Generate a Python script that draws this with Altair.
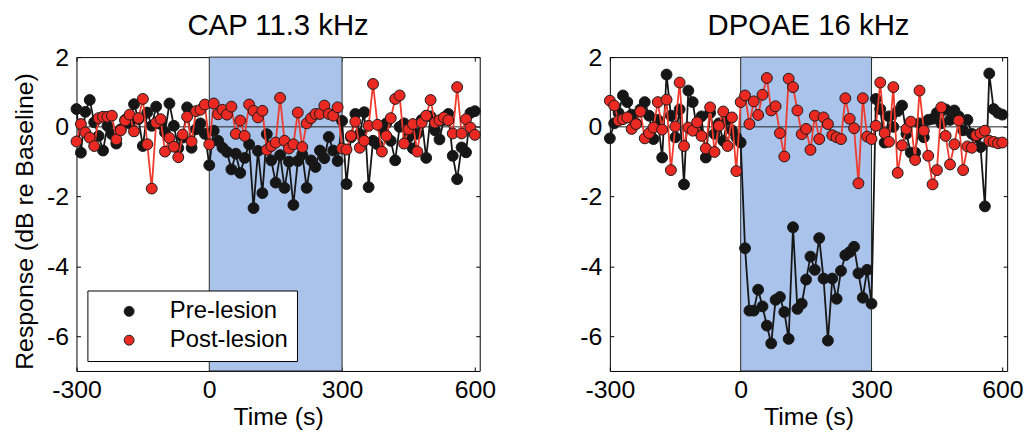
import altair as alt
import pandas as pd

# ---------------- data ----------------
t = list(range(-300, 601, 10))

cap_pre = [0.51, -0.74, 0.43, 0.77, 0.13, -0.26, -0.68, 0.03, -0.21, -0.48,
           -0.07, 0.20, 0.10, 0.65, 0.22, -0.55, 0.41, 0.03, 0.58, 0.08,
           -0.16, 0.67, 0.03, -0.61, -0.31, 0.56, -0.60, -0.07, 0.10, -0.20,
           -1.10, -0.11, -0.40, -0.60, -0.72, -1.22, -0.77, -1.32, -0.89, -0.50,
           -2.33, -0.69, -1.90, -0.21, -0.96, -1.60, -0.81, -1.75, -1.00, -2.24,
           -0.98, -0.79, -1.75, -0.96, -1.15, -0.68, -0.90, -0.29, -0.68, -0.98,
           0.17, -1.64, -0.30, 0.37, -0.20, 0.42, -1.73, -0.40, -0.50, -0.02,
           0.10, -0.40, -0.96, 0.00, 0.10, -0.30, -0.62, -0.20, 0.20, -0.89,
           0.30, -0.10, -0.36, 0.20, 0.37, -0.83, -1.50, -0.59, -0.73, 0.40,
           0.45]

cap_post = [-0.42, 0.08, -0.16, -0.31, -0.55, 0.25, 0.29, 0.29, 0.32, -0.36,
            -0.10, 0.18, 0.35, -0.13, 0.25, 0.80, -0.50, -1.77, 0.12, 0.22,
            -0.71, -0.32, -0.57, -0.87, -0.22, 0.29, -0.42, 0.45, 0.49, 0.64,
            -0.50, 0.67, 0.36, 0.49, 0.35, 0.58, -0.20, 0.18, -0.26, 0.64,
            0.46, 0.27, 0.46, -0.66, -0.55, -0.45, 0.83, -0.40, -0.62, -0.50,
            0.41, -0.58, 0.10, 0.25, 0.37, 0.37, 0.61, 0.37, 0.32, 0.56,
            -0.62, -0.65, -0.26, 0.15, -0.60, -0.40, 0.03, 1.23, 0.06, -0.71,
            -0.26, 0.25, 0.80, 0.90, -0.48, -0.07, 0.08, -0.71, 0.12, 0.32,
            0.77, 0.12, 0.19, 0.27, 0.19, -0.19, 1.14, -0.19, 0.22, -0.02,
            -0.23]

dp_pre = [-0.33, 0.10, 0.40, 0.90, 0.71, 0.35, 0.10, 0.50, 0.71, 0.32,
          -0.35, 0.20, -0.88, 1.50, 0.32, -0.30, 0.50, -1.65, 1.04, 0.71,
          -0.10, 0.30, -0.88, 0.40, -0.20, 0.10, -0.40, 0.20, -0.10, -0.30,
          -0.45, -3.48, -5.27, -5.27, -4.67, -5.15, -5.70, -6.21, -4.96, -4.88,
          -5.31, -6.08, -2.88, -5.22, -5.07, -4.38, -3.72, -4.10, -3.19, -4.35,
          -6.13, -4.35, -4.93, -4.13, -3.68, -3.59, -3.44, -4.20, -4.90, -4.10,
          -5.07, 0.80, 0.51, -0.45, 0.30, 0.00, 0.45, 0.61, -0.20, -0.74,
          -0.74, 0.10, -0.30, 0.20, 0.23, 0.40, 0.10, 0.50, 0.20, 0.47,
          0.30, -0.10, 0.20, -0.20, -0.30, -0.58, -2.28, 1.53, 0.51, 0.40,
          0.35]

dp_post = [0.75, 0.61, 0.18, 0.22, 0.27, -0.06, 0.08, 0.44, -0.33, -0.18,
           -0.02, 0.71, -0.08, 0.78, -1.24, 0.01, 1.27, -0.55, -0.02, -0.11,
           0.13, -0.26, -0.62, 0.56, -0.72, 0.03, 0.44, -0.55, 0.27, -1.27,
           0.71, 0.90, 0.08, 0.73, 0.34, 0.92, 1.40, 0.47, 0.59, -0.18,
           -0.85, 1.38, 1.14, 0.47, -0.21, -0.06, -0.66, 0.32, -0.35, 0.27,
           0.08, -0.24, -0.30, -0.35, 0.82, 0.23, -0.04, -1.62, 0.82, -0.28,
           -0.35, 0.03, 1.27, -0.18, -0.43, 1.14, -1.32, -0.53, -0.06, 0.15,
           -0.95, 1.04, -0.11, -0.83, -1.65, -1.24, 0.56, -0.26, -1.08, -0.50,
           0.18, -1.24, -0.56, -0.60, -0.24, -0.18, -0.11, -0.40, -0.43, -0.47,
           -0.45]

titles = ["CAP 11.3 kHz", "DPOAE 16 kHz"]
series = ["Pre-lesion", "Post-lesion"]
x_ticks = [-300, 0, 300, 600]
y_ticks = [-6, -4, -2, 0, 2]
x_domain = [-300, 611]
y_domain = [-7, 2]
shade_start = [0]
shade_end = [300]

# ---------------- style ----------------
FONT = "Liberation Sans, Arial, Helvetica, sans-serif"
PT_COLORS = ["#161616", "#ea2a22"]
LINE_COLORS = ["#161616", "#f03a2c"]
SHADE = "#a9c3ea"
H = 316
LABEL_EXPR = "'' + datum.value"


def panel(title, pre, post, width, legend, ytitle):
    df = pd.DataFrame({
        "t": t + t,
        "v": pre + post,
        "series": [series[0]] * len(t) + [series[1]] * len(t),
    })
    shade = pd.DataFrame({"start": shade_start, "end": shade_end})
    xs = alt.Scale(domain=x_domain, nice=False, zero=False)
    ys = alt.Scale(domain=y_domain, nice=False, zero=False)
    cs = alt.Scale(domain=series, range=PT_COLORS)

    common = dict(offset=-4, tickSize=4, domain=False, grid=False,
                  tickColor="black", labelColor="black", titleColor="black",
                  labelFont=FONT, titleFont=FONT, labelFontSize=25,
                  titleFontSize=25, titleFontWeight="normal",
                  labelFlush=False, labelOverlap=False)

    x_bottom = alt.Axis(values=x_ticks, orient="bottom", title="Time (s)",
                        labelPadding=7, titlePadding=2, labelExpr=LABEL_EXPR,
                        **common)
    x_top = alt.Axis(values=x_ticks, orient="top", title=None, labels=False,
                     **common)
    y_left_kw = dict(values=y_ticks, orient="left", labelPadding=8,
                     titlePadding=9, labelExpr=LABEL_EXPR, **common)
    if ytitle:
        y_left = alt.Axis(title=ytitle, titleY=H / 2 + 7, **y_left_kw)
    else:
        y_left = alt.Axis(title=None, **y_left_kw)
    y_right = alt.Axis(values=y_ticks, orient="right", title=None,
                       labels=False, **common)

    rect = alt.Chart(shade).mark_rect(
        fill=SHADE, stroke="#2a2a2a", strokeWidth=1
    ).encode(
        x=alt.X("start:Q", scale=xs, axis=x_top),
        x2="end:Q",
        y=alt.value(0),
        y2=alt.value(H),
    )
    zero = alt.Chart(shade).mark_rule(color="#222222", strokeWidth=1).encode(
        y=alt.YDatum(0, scale=ys, axis=y_right)
    )

    if legend:
        leg = alt.Legend(
            title=None, orient="none", legendX=11, legendY=235,
            symbolType="circle", symbolSize=100, symbolStrokeColor="#222222",
            symbolStrokeWidth=1, labelFont=FONT, labelFontSize=24,
            labelColor="black", padding=9, rowPadding=5, symbolOffset=21,
            labelOffset=29, strokeColor="black", fillColor="white",
            cornerRadius=0,
        )
    else:
        leg = None

    layers = [rect, zero]
    for i, s in enumerate(series):
        base = alt.Chart(df).transform_filter(alt.datum.series == s)
        ln = base.mark_line(color=LINE_COLORS[i], strokeWidth=1.8).encode(
            x=alt.X("t:Q", scale=xs, axis=x_bottom if i == 0 else None),
            y=alt.Y("v:Q", scale=ys, axis=y_left if i == 0 else None),
        )
        pt = base.mark_circle(size=120, opacity=1, stroke="#1a1a1a",
                              strokeWidth=1).encode(
            x=alt.X("t:Q", scale=xs, axis=None),
            y=alt.Y("v:Q", scale=ys, axis=None),
            color=alt.Color("series:N", scale=cs, legend=leg),
        )
        layers += [ln, pt]

    return alt.layer(*layers).resolve_axis(
        x="independent", y="independent"
    ).properties(
        width=width, height=H,
        title=alt.TitleParams(title, font=FONT, fontSize=29.5,
                              fontWeight="normal", color="black",
                              anchor="middle", frame="group",
                              baseline="alphabetic", offset=-19),
    )


left = panel(titles[0], cap_pre, cap_post, 406, True,
             "Response (dB re Baseline)")
right = panel(titles[1], dp_pre, dp_post, 400, False, None)

chart = alt.hconcat(left, right, spacing=131, bounds="flush").resolve_scale(
    color="independent"
).properties(
    padding={"left": 12, "top": 9, "right": 5, "bottom": 5},
    background="white",
).configure_view(stroke="black", strokeWidth=1)

chart.save("out.html", embed_options={"renderer": "svg", "actions": False})
